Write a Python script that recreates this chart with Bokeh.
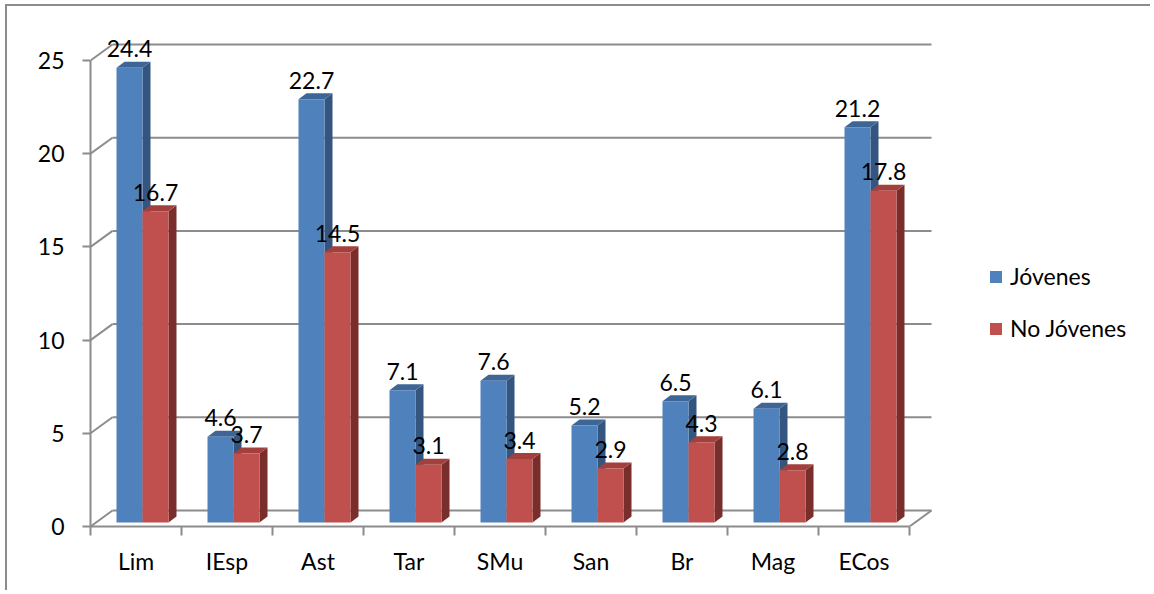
from bokeh.plotting import figure
from bokeh.models import Range1d, FixedTicker, Legend, LegendItem, ColumnDataSource
from bokeh.core.properties import value
from bokeh.embed import file_html
from bokeh.resources import INLINE

# ---------------- data ----------------
categories = ["Lim", "IEsp", "Ast", "Tar", "SMu", "San", "Br", "Mag", "ECos"]
jovenes = [24.4, 4.6, 22.7, 7.1, 7.6, 5.2, 6.5, 6.1, 21.2]
no_jovenes = [16.7, 3.7, 14.5, 3.1, 3.4, 2.9, 4.3, 2.8, 17.8]
y_ticks = [0, 5, 10, 15, 20, 25]
series_names = ["Jóvenes", "No Jóvenes"]

# ---------------- geometry / style ----------------
KX = 91.0      # px per category
KY = 18.64     # px per value unit
OX, OY = 7, 6  # canvas origin on page (after border)
W, H = 1145, 586
FL, FR, FT, FB = 90 - OX, 1140 - OX, 20 - OY, 526 - OY   # frame edges in figure px
FONT = "Lato"
FS = "23px"
GRID = "#8c8c8c"

WX, WY = 22 / KX, 16 / KY          # back wall depth offset
BASE = 4 / KY                      # bar base (bars sit slightly behind front)
BOFF = 26 / KX                     # offset of first bar from category start
BW = 26 / KX                       # bar face width
SDX, SDY = 8 / KX, 6 / KY          # bar depth

BLUE = ("#4f81bd", "#3d6697", "#34557f")   # front, top, side
RED = ("#c0504d", "#a3403d", "#7a2e2c")

xend = (FR - FL) / KX
yend = (FB - FT) / KY

p = figure(width=W, height=H, x_range=Range1d(0, xend), y_range=Range1d(0, yend),
           output_backend="svg", toolbar_location=None,
           min_border_left=FL, min_border_right=W - FR, min_border_top=FT,
           min_border_bottom=H - FB,
           styles={"border-left": "2px solid #8c8c8c", "border-top": "2px solid #8c8c8c",
                   "margin-left": "5px", "margin-top": "4px"})
p.xgrid.visible = False
p.ygrid.visible = False
p.outline_line_color = None
p.background_fill_color = None
p.border_fill_color = None

n = len(categories)
ymax = y_ticks[-1]

# ---------------- walls / grid ----------------
gx0, gx1, gy = [], [], []
for t in y_ticks:
    gx0.append(WX); gx1.append(n + WX); gy.append(t + WY)
p.segment(x0=gx0, y0=gy, x1=gx1, y1=gy, line_color=GRID, line_width=2)
# diagonals from the left axis to the back wall
p.segment(x0=[0] * len(y_ticks), y0=y_ticks, x1=[WX] * len(y_ticks),
          y1=[t + WY for t in y_ticks], line_color=GRID, line_width=2)
# floor right edge
p.segment(x0=[n], y0=[0], x1=[n + WX], y1=[WY], line_color=GRID, line_width=2)

# ---------------- bars ----------------
def draw_series(vals, k, cols):
    left = [i + BOFF + k * BW for i in range(n)]
    right = [l + BW for l in left]
    top = [v + BASE for v in vals]
    side_xs = [[r, r + SDX, r + SDX, r] for r in right]
    side_ys = [[BASE, BASE + SDY, t + SDY, t] for t in top]
    top_xs = [[l, l + SDX, r + SDX, r] for l, r in zip(left, right)]
    top_ys = [[t, t + SDY, t + SDY, t] for t in top]
    p.patches(xs=side_xs, ys=side_ys, fill_color=cols[2], line_color=None)
    p.patches(xs=top_xs, ys=top_ys, fill_color=cols[1], line_color=None)
    src = ColumnDataSource(dict(left=left, right=right, bottom=[BASE] * n, top=top))
    r = p.quad(left="left", right="right", bottom="bottom", top="top", source=src,
               fill_color=cols[0], line_color=None)
    lab = ColumnDataSource(dict(x=[(l + rr) / 2 for l, rr in zip(left, right)], y=top,
                                t=[f"{v:.1f}" for v in vals]))
    return r, lab

r_blue, lab_blue = draw_series(jovenes, 0, BLUE)
r_red, lab_red = draw_series(no_jovenes, 1, RED)

for lab in (lab_blue, lab_red):
    p.text(x="x", y="y", text="t", source=lab, text_align="center",
           text_baseline="alphabetic", y_offset=-19, text_color="black",
           text_font=value(FONT), text_font_size=FS)

# ---------------- axes ----------------
ya = p.yaxis[0]
ya.ticker = FixedTicker(ticks=y_ticks, minor_ticks=[])
ya.bounds = (0, ymax)
ya.axis_line_color = GRID
ya.axis_line_width = 2
ya.major_tick_line_color = GRID
ya.major_tick_line_width = 2
ya.major_tick_out = 8
ya.major_tick_in = 0
ya.minor_tick_line_color = None
ya.major_label_standoff = 18
ya.major_label_text_font = FONT
ya.major_label_text_font_size = FS
ya.major_label_text_color = "black"

xa = p.xaxis[0]
xa.ticker = FixedTicker(ticks=[i + 0.5 for i in range(n)], minor_ticks=list(range(n + 1)))
xa.major_label_overrides = {i + 0.5: c for i, c in enumerate(categories)}
xa.bounds = (0, n)
xa.axis_line_color = GRID
xa.axis_line_width = 2
xa.major_tick_line_color = None
xa.major_tick_out = 0
xa.major_tick_in = 0
xa.minor_tick_line_color = GRID
xa.minor_tick_line_width = 2
xa.minor_tick_out = 9
xa.minor_tick_in = 0
xa.major_label_standoff = 11
xa.major_label_text_font = FONT
xa.major_label_text_font_size = FS
xa.major_label_text_color = "black"

# ---------------- legend ----------------
legend = Legend(items=[LegendItem(label=series_names[0], renderers=[r_blue]),
                       LegendItem(label=series_names[1], renderers=[r_red])],
                location=(898, 184), orientation="vertical",
                glyph_width=15, glyph_height=15, label_height=25, spacing=24,
                label_standoff=7, padding=0, margin=0,
                border_line_color=None, background_fill_alpha=0,
                label_text_font=FONT, label_text_font_size=FS, label_text_color="black")
p.add_layout(legend)

open("out.html", "w").write(file_html(p, INLINE))
